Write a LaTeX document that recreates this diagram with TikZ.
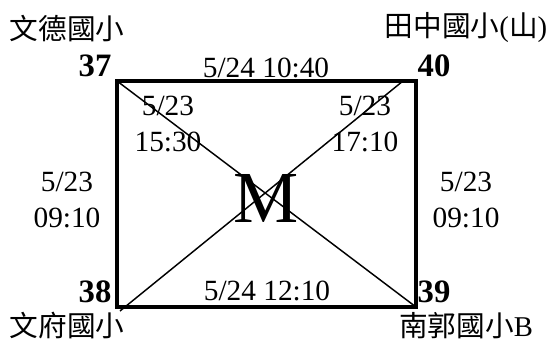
\documentclass[tikz,border=0pt]{standalone}
\usepackage{fontspec}
\setmainfont{Liberation Serif}
\newfontfamily\cjk{Noto Sans CJK TC}
\tikzset{
  lbl/.style={inner sep=0pt, font=\fontsize{22}{27}\selectfont, align=center},
  num/.style={inner sep=0pt, font=\fontsize{24.5}{27}\selectfont\bfseries},
  school/.style={inner sep=0pt, font=\fontsize{21.5}{27}\selectfont},
}
\begin{document}
\begin{tikzpicture}[x=0.75pt, y=-0.75pt]
    \useasboundingbox (0,0) rectangle (550,343);

    % Esquinas del rectangulo
    \coordinate (c37) at (117,81);
    \coordinate (c40) at (416,81);
    \coordinate (c38) at (117,307);
    \coordinate (c39) at (416,307);
    \coordinate (d38) at (120,311);
    \coordinate (d40) at (403,81);

    % Rectangulo y diagonales
    \draw[line width=2.3pt] (c37) rectangle (c39);
    \draw[line width=1.1pt] (c37) -- (c39);
    \draw[line width=1.1pt] (d38) -- (d40);

    % Letra central
    \node[inner sep=0pt, font=\fontsize{55}{60}\selectfont] (m) at (266,198) {M};

    % Numeros de las esquinas
    \node[num] (n37) at (95,66) {37};
    \node[num] (n40) at (434,66) {40};
    \node[num] (n38) at (95,292) {38};
    \node[num] (n39) at (434,292) {39};

    % Escuelas
    \node[school] (s37) at (67,29) {\cjk 文德國小};
    \node[school] (s40) at (466,28) {{\cjk 田中國小}({\cjk 山})};
    \node[school] (s38) at (67,326) {\cjk 文府國小};
    \node[school] (s39) at (466,326) {{\cjk 南郭國小}B};

    % Fechas de los lados
    \node[lbl] (top) at (266,68) {5/24 10:40};
    \node[lbl] (bot) at (267,291) {5/24 12:10};
    \node[lbl] (lft) at (67,200) {5/23\\09:10};
    \node[lbl] (rgt) at (466,200) {5/23\\09:10};

    % Fechas de las diagonales
    \node[lbl] (dg1) at (168,124) {5/23\\15:30};
    \node[lbl] (dg2) at (365,124) {5/23\\17:10};
\end{tikzpicture}
\end{document}
